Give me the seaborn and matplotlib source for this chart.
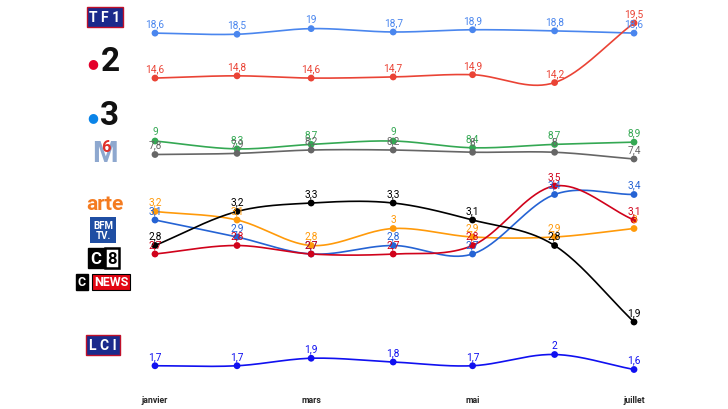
import numpy as np
import pandas as pd
import matplotlib
matplotlib.use("Agg")
import matplotlib.pyplot as plt
import matplotlib.dates as mdates
import seaborn as sns

# --- data (audience share, %) ---
months = ["2021-01-01", "2021-02-01", "2021-03-01", "2021-04-01",
          "2021-05-01", "2021-06-01", "2021-07-01"]
tick_months = ["2021-01-01", "2021-03-01", "2021-05-01", "2021-07-01"]
tick_labels = ["janvier", "mars", "mai", "juillet"]

tf1 = [18.6, 18.5, 19, 18.7, 18.9, 18.8, 18.6]
france2 = [14.6, 14.8, 14.6, 14.7, 14.9, 14.2, 19.5]
france3 = [9, 8.3, 8.7, 9, 8.4, 8.7, 8.9]
m6 = [7.8, 7.9, 8.2, 8.2, 8, 8, 7.4]
arte = [3.2, 3.1, 2.8, 3, 2.9, 2.9, 3]
bfmtv = [3.1, 2.9, 2.7, 2.8, 2.7, 3.4, 3.4]
c8 = [2.7, 2.8, 2.7, 2.7, 2.8, 3.5, 3.1]
cnews = [2.8, 3.2, 3.3, 3.3, 3.1, 2.8, 1.9]
lci = [1.7, 1.7, 1.9, 1.8, 1.7, 2, 1.6]

colors = {
    "TF1": "#4a86ee", "France 2": "#ea4335", "France 3": "#34a853",
    "M6": "#666666", "Arte": "#ff9a0a", "BFMTV": "#2563d4",
    "C8": "#d0021b", "CNews": "#000000", "LCI": "#1010f0",
}

panels = [
    # (series, top px, bottom px, ref value, ref px, px per unit)
    ([("France 3", france3), ("M6", m6), ("TF1", tf1), ("France 2", france2)],
     5, 175, 19.5, 24, 11.24),
    ([("Arte", arte), ("BFMTV", bfmtv), ("C8", c8), ("CNews", cnews)],
     178, 335, 3.3, 204, 85.0),
    ([("LCI", lci)], 338, 388, 2.0, 355.5, 37.5),
]

W, H = 728, 410
sns.set_theme(style="white")
plt.rcParams["font.family"] = ["Roboto", "DejaVu Sans"]

fig = plt.figure(figsize=(W / 100, H / 100), dpi=100)

x_dates = pd.to_datetime(months)
xnum = mdates.date2num(x_dates)
px_per_day = (634 - 155) / (xnum[-1] - xnum[0])
xlim = (xnum[0] - 155 / px_per_day, xnum[-1] + (W - 634) / px_per_day)


def smooth(x, y, n=40):
    x = np.asarray(x, float)
    y = np.asarray(y, float)
    d = np.diff(y) / np.diff(x)
    m = np.empty_like(y)
    m[1:-1] = (d[:-1] + d[1:]) / 2
    m[0], m[-1] = d[0], d[-1]
    xs, ys = [], []
    t = np.linspace(0, 1, n)
    for i in range(len(x) - 1):
        h = x[i + 1] - x[i]
        h00 = 2 * t**3 - 3 * t**2 + 1
        h10 = t**3 - 2 * t**2 + t
        h01 = -2 * t**3 + 3 * t**2
        h11 = t**3 - t**2
        xs.append(x[i] + t * h)
        ys.append(h00 * y[i] + h10 * h * m[i] + h01 * y[i + 1] + h11 * h * m[i + 1])
    return np.concatenate(xs), np.concatenate(ys)


axes = []
for series, top, bot, vref, pref, scale in panels:
    ax = fig.add_axes([0, 1 - bot / H, 1, (bot - top) / H])
    ax.set_xlim(*xlim)
    ax.set_ylim(vref - (bot - pref) / scale, vref + (pref - top) / scale)
    rows = []
    for name, vals in series:
        sx, sy = smooth(xnum, vals)
        ax.plot(sx, sy, color=colors[name], lw=1.2, zorder=2)
        for xd, v in zip(x_dates, vals):
            rows.append({"mois": xd, "part": v, "chaine": name})
    df = pd.DataFrame(rows)
    df["x"] = mdates.date2num(df["mois"])
    sns.scatterplot(data=df, x="x", y="part", hue="chaine", palette=colors,
                    s=24, edgecolor="none", legend=False, ax=ax, zorder=3)
    for name, vals in series:
        for xv, v in zip(xnum, vals):
            ax.annotate(f"{v:g}".replace(".", ","), (xv, v), xytext=(0, 3.5),
                        textcoords="offset points", ha="center", va="bottom",
                        fontsize=7.3, color=colors[name], zorder=4)
    ax.axis("off")
    axes.append(ax)

# month labels under the bottom panel
axb = axes[-1]
axb.axis("on")
for s in axb.spines.values():
    s.set_visible(False)
axb.set_yticks([])
axb.set_xticks(mdates.date2num(pd.to_datetime(tick_months)))
axb.set_xticklabels(tick_labels, fontsize=6.3, fontweight="bold")
axb.tick_params(axis="x", length=0, pad=6)
axb.set_xlabel("")
axb.set_ylabel("")


# --- channel "logos" as text ---
def fx(px):
    return px / W


def fy(py):
    return 1 - py / H


fig.text(fx(105), fy(18), "T F 1", color="white", fontsize=10, fontweight="bold",
         ha="center", va="center",
         bbox=dict(boxstyle="square,pad=0.2", fc="#1b2a8c", ec="#c0102a", lw=1))
fig.text(fx(93), fy(64), "●", color="#e4002b", fontsize=9, ha="center", va="center")
fig.text(fx(110), fy(62), "2", color="#111111", fontsize=24, fontweight="bold",
         ha="center", va="center")
fig.text(fx(93), fy(118), "●", color="#0a84e8", fontsize=9, ha="center", va="center")
fig.text(fx(110), fy(116), "3", color="#111111", fontsize=24, fontweight="bold",
         ha="center", va="center")
fig.text(fx(105), fy(154), "M", color="#8ea8cf", fontsize=21, fontweight="bold",
         ha="center", va="center")
fig.text(fx(106), fy(148), "6", color="#e0302a", fontsize=12, fontweight="bold",
         ha="center", va="center")
fig.text(fx(105), fy(205), "arte", color="#f47b20", fontsize=15, fontweight="bold",
         ha="center", va="center")
fig.text(fx(103), fy(231), "BFM\nTV.", color="white", fontsize=7, fontweight="bold",
         ha="center", va="center", linespacing=0.95,
         bbox=dict(boxstyle="square,pad=0.3", fc="#1f4ea3", ec="none"))
fig.text(fx(96), fy(259), "C", color="white", fontsize=12, fontweight="bold",
         ha="center", va="center",
         bbox=dict(boxstyle="square,pad=0.15", fc="black", ec="black"))
fig.text(fx(112), fy(259), "8", color="black", fontsize=12, fontweight="bold",
         ha="center", va="center",
         bbox=dict(boxstyle="square,pad=0.15", fc="white", ec="black", lw=1.8))
fig.text(fx(82), fy(283), "C", color="white", fontsize=9, fontweight="bold",
         ha="center", va="center",
         bbox=dict(boxstyle="square,pad=0.15", fc="black", ec="black"))
fig.text(fx(111), fy(283), "NEWS", color="white", fontsize=9, fontweight="bold",
         ha="center", va="center",
         bbox=dict(boxstyle="square,pad=0.15", fc="#e30613", ec="black", lw=0.8))
fig.text(fx(103), fy(346), "L C I", color="white", fontsize=10, fontweight="bold",
         ha="center", va="center",
         bbox=dict(boxstyle="square,pad=0.2", fc="#1b2a8c", ec="#c0102a", lw=1))

fig.savefig("out.png", dpi=100, facecolor="white")
